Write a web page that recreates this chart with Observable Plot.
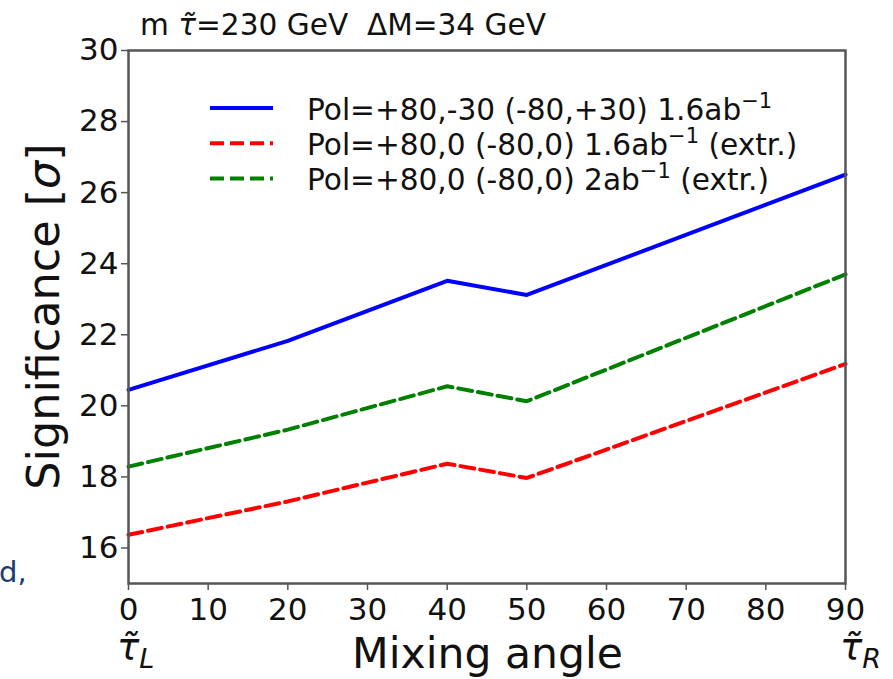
<!DOCTYPE html>
<html>
<head>
<meta charset="utf-8">
<script src="https://cdn.jsdelivr.net/npm/d3@7"></script>
<script src="https://cdn.jsdelivr.net/npm/@observablehq/plot@0.6"></script>
<style>
  body { margin: 0; background: #fff; }
  svg { font-family: "DejaVu Sans", sans-serif; }
</style>
</head>
<body>
<div id="chart"></div>
<script>
// Mixing angle (degrees) at which the significance was evaluated
const angles = [0, 20, 40, 50, 90];

// Significance [sigma] for each polarisation / luminosity scenario
const sigPol8030 = [20.45, 21.83, 23.52, 23.12, 26.51];
const sigPol800Lumi16 = [16.37, 17.31, 18.37, 17.97, 21.18];
const sigPol800Lumi2 = [18.29, 19.33, 20.55, 20.13, 23.70];

const xTicks = [0, 10, 20, 30, 40, 50, 60, 70, 80, 90];
const yTicks = [16, 18, 20, 22, 24, 26, 28, 30];

const seriesNames = ["pol8030", "pol800_16", "pol800_2"];
const seriesColors = ["#0000ff", "#ff0000", "#008000"];
const seriesDash = [null, "14,6", "14,6"];
// legend text: main part, superscript, trailing part
const seriesLabels = [
  ["Pol=+80,-30 (-80,+30) 1.6ab", "\u22121", ""],
  ["Pol=+80,0 (-80,0) 1.6ab", "\u22121", " (extr.)"],
  ["Pol=+80,0 (-80,0) 2ab", "\u22121", " (extr.)"]
];
const seriesValues = [sigPol8030, sigPol800Lumi16, sigPol800Lumi2];

const rows = seriesNames.flatMap((name, s) =>
  angles.map((a, i) => ({series: name, angle: a, sig: seriesValues[s][i]}))
);

const FONT = "DejaVu Sans";
const TAU = "\u03C4\u0303";

// Legend drawn inside the frame, top left
function legendMark(index, scales, values, dims) {
  const g = d3.create("svg:g").attr("font-family", FONT).attr("text-anchor", "start");
  seriesLabels.forEach((lab, i) => {
    const y = dims.marginTop + 58 + i * 35.2;
    const x0 = dims.marginLeft + 82;
    g.append("line")
      .attr("x1", x0).attr("x2", x0 + 63)
      .attr("y1", y).attr("y2", y)
      .attr("stroke", seriesColors[i])
      .attr("stroke-width", 4)
      .attr("stroke-dasharray", seriesDash[i]);
    const t = g.append("text")
      .attr("x", dims.marginLeft + 179)
      .attr("y", y + 12)
      .attr("font-size", 29.6)
      .attr("fill", "#111")
      .style("white-space", "pre");
    t.append("tspan").text(lab[0]);
    t.append("tspan").attr("font-size", 21).attr("dy", -12).text(lab[1]);
    t.append("tspan").attr("dy", 12).text(lab[2]);
  });
  return g.node();
}

// Title, axis labels and the stau endpoint labels under the x ticks
function annotationMark(index, scales, values, dims) {
  const g = d3.create("svg:g").attr("font-family", FONT).attr("fill", "#111").attr("text-anchor", "start");
  const {width, height, marginLeft, marginRight, marginTop, marginBottom} = dims;
  const bottom = height - marginBottom;

  const title = g.append("text")
    .attr("x", marginLeft + 12).attr("y", 35)
    .attr("font-size", 29.6)
    .style("white-space", "pre");
  title.append("tspan").text("m ");
  title.append("tspan").attr("font-style", "italic").text(TAU);
  title.append("tspan").text("=230 GeV  \u0394M=34 GeV");

  g.append("text")
    .attr("x", (marginLeft + width - marginRight) / 2 + 1)
    .attr("y", bottom + 85)
    .attr("text-anchor", "middle")
    .attr("font-size", 42.5)
    .text("Mixing angle");

  const yl = g.append("text")
    .attr("transform", `translate(59,${(marginTop + bottom) / 2}) rotate(-90)`)
    .attr("text-anchor", "middle")
    .attr("font-size", 44.5);
  yl.append("tspan").text("Significance [");
  yl.append("tspan").attr("font-style", "italic").text("\u03C3");
  yl.append("tspan").text("]");

  [[0, "L", -11], [90, "R", -5]].forEach(([a, sub, dx]) => {
    const t = g.append("text")
      .attr("x", scales.x(a) + dx)
      .attr("y", bottom + 77)
      .attr("font-style", "italic")
      .attr("font-size", 37);
    t.append("tspan").text(TAU);
    t.append("tspan").attr("font-size", 27).attr("dy", 8).text(sub);
  });

  // text fragment at the left edge
  g.append("text")
    .attr("x", -1).attr("y", bottom - 1)
    .attr("font-size", 29)
    .attr("fill", "#1a3d6e")
    .text("d,");
  return g.node();
}

const lines = seriesNames.map((name, i) =>
  Plot.line(rows.filter(d => d.series === name), {
    x: "angle",
    y: "sig",
    stroke: seriesColors[i],
    strokeWidth: 4,
    strokeDasharray: seriesDash[i] ?? undefined,
    strokeLinejoin: "round"
  })
);

const chart = Plot.plot({
  width: 893,
  height: 679,
  marginLeft: 128,
  marginRight: 48,
  marginTop: 50,
  marginBottom: 96,
  style: {fontFamily: FONT, background: "#fff"},
  x: {domain: [0, 90]},
  y: {domain: [15, 30]},
  marks: [
    Plot.axisY({ticks: yTicks, tickSize: 7, tickPadding: 3, fontSize: 31, stroke: "#555", strokeWidth: 1.5, fill: "#111", label: null}),
    Plot.axisX({ticks: xTicks, tickSize: 7, tickPadding: 7, fontSize: 31, stroke: "#555", strokeWidth: 1.5, fill: "#111", label: null}),
    ...lines,
    Plot.frame({stroke: "#555", strokeWidth: 2.5}),
    legendMark,
    annotationMark
  ]
});

document.getElementById("chart").appendChild(chart);
</script>
</body>
</html>
